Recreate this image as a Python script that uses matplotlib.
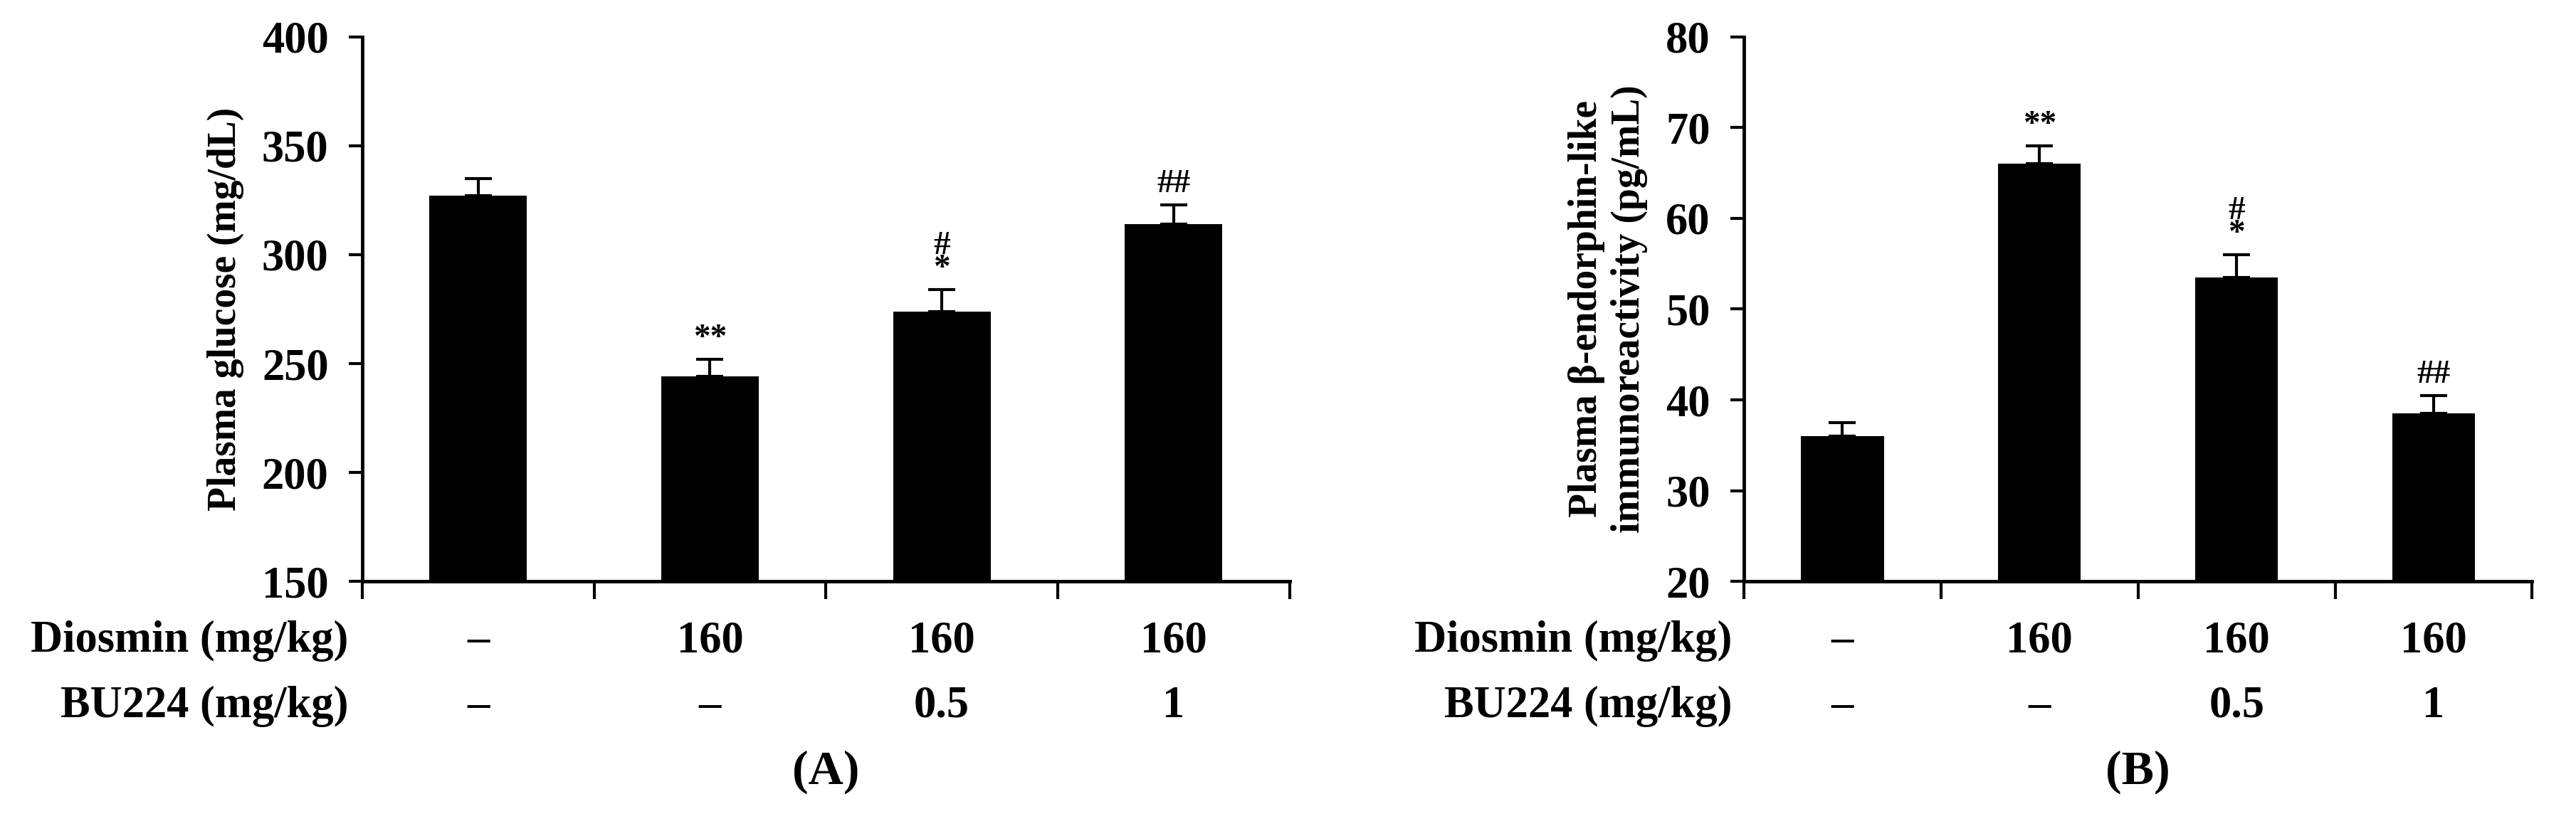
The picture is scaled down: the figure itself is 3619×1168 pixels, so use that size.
import numpy as np
import matplotlib
matplotlib.use('Agg')
import matplotlib.pyplot as plt

plt.rcParams['font.family'] = 'Liberation Serif'
plt.rcParams['font.weight'] = 'bold'
plt.rcParams['axes.labelweight'] = 'bold'

# data
glucose = [327, 244, 274, 314]
glucose_err = [8, 8, 10, 9]
endorphin = [36, 66, 53.5, 38.5]
endorphin_err = [1.5, 2, 2.5, 2]
diosmin = ['\u2013', '160', '160', '160']
bu224 = ['\u2013', '\u2013', '0.5', '1']
marks_a = ['', '**', '#\n*', '##']
marks_b = ['', '**', '#\n*', '##']

fig = plt.figure(figsize=(36.19, 11.68), dpi=100)
FS = 45

def panel(rect, vals, errs, marks, ylim, step, ylabel, letter):
    ax = fig.add_axes(rect)
    x = np.arange(len(vals))
    ax.bar(x, [v - ylim[0] for v in vals], bottom=ylim[0], width=0.42, color='black')
    ax.errorbar(x, vals, yerr=[np.zeros(len(vals)), errs], fmt='none',
                ecolor='black', elinewidth=3, capsize=14, capthick=3)
    span = ylim[1] - ylim[0]
    for i, m in enumerate(marks):
        if m:
            ax.text(i, vals[i] + errs[i] + span * 0.01, m, ha='center', va='bottom',
                    fontsize=34, linespacing=0.7)
    ax.set_xlim(-0.5, len(vals) - 0.5)
    ax.set_ylim(*ylim)
    ax.set_yticks(np.arange(ylim[0], ylim[1] + 0.1, step))
    ax.set_xticks(np.arange(-0.5, len(vals)))
    ax.set_xticklabels([])
    ax.tick_params(axis='x', direction='out', length=18, width=3)
    ax.tick_params(axis='y', direction='out', length=14, width=3, labelsize=FS, pad=20)
    for s in ['top', 'right']:
        ax.spines[s].set_visible(False)
    for s in ['left', 'bottom']:
        ax.spines[s].set_linewidth(3.5)
    ax.set_ylabel(ylabel, fontsize=40, fontweight='bold', labelpad=18)
    tr = ax.get_xaxis_transform()
    ax.text(-0.56, -0.11, 'Diosmin (mg/kg)', transform=tr, ha='right', va='center', fontsize=FS)
    ax.text(-0.56, -0.23, 'BU224 (mg/kg)', transform=tr, ha='right', va='center', fontsize=FS)
    for i in x:
        ax.text(i, -0.11, diosmin[i], transform=tr, ha='center', va='center', fontsize=FS)
        ax.text(i, -0.23, bu224[i], transform=tr, ha='center', va='center', fontsize=FS)
    ax.text(0.5, -0.35, letter, transform=ax.transAxes, ha='center', va='center',
            fontsize=FS + 4)
    return ax

panel([0.1406, 0.3005, 0.360, 0.655], glucose, glucose_err, marks_a, (150, 400), 50,
      'Plasma glucose (mg/dL)', '(A)')
panel([0.677, 0.3005, 0.306, 0.655], endorphin, endorphin_err, marks_b, (20, 80), 10,
      'Plasma \u03b2-endorphin-like\nimmunoreactivity (pg/mL)', '(B)')

fig.savefig('out.png', dpi=100)
